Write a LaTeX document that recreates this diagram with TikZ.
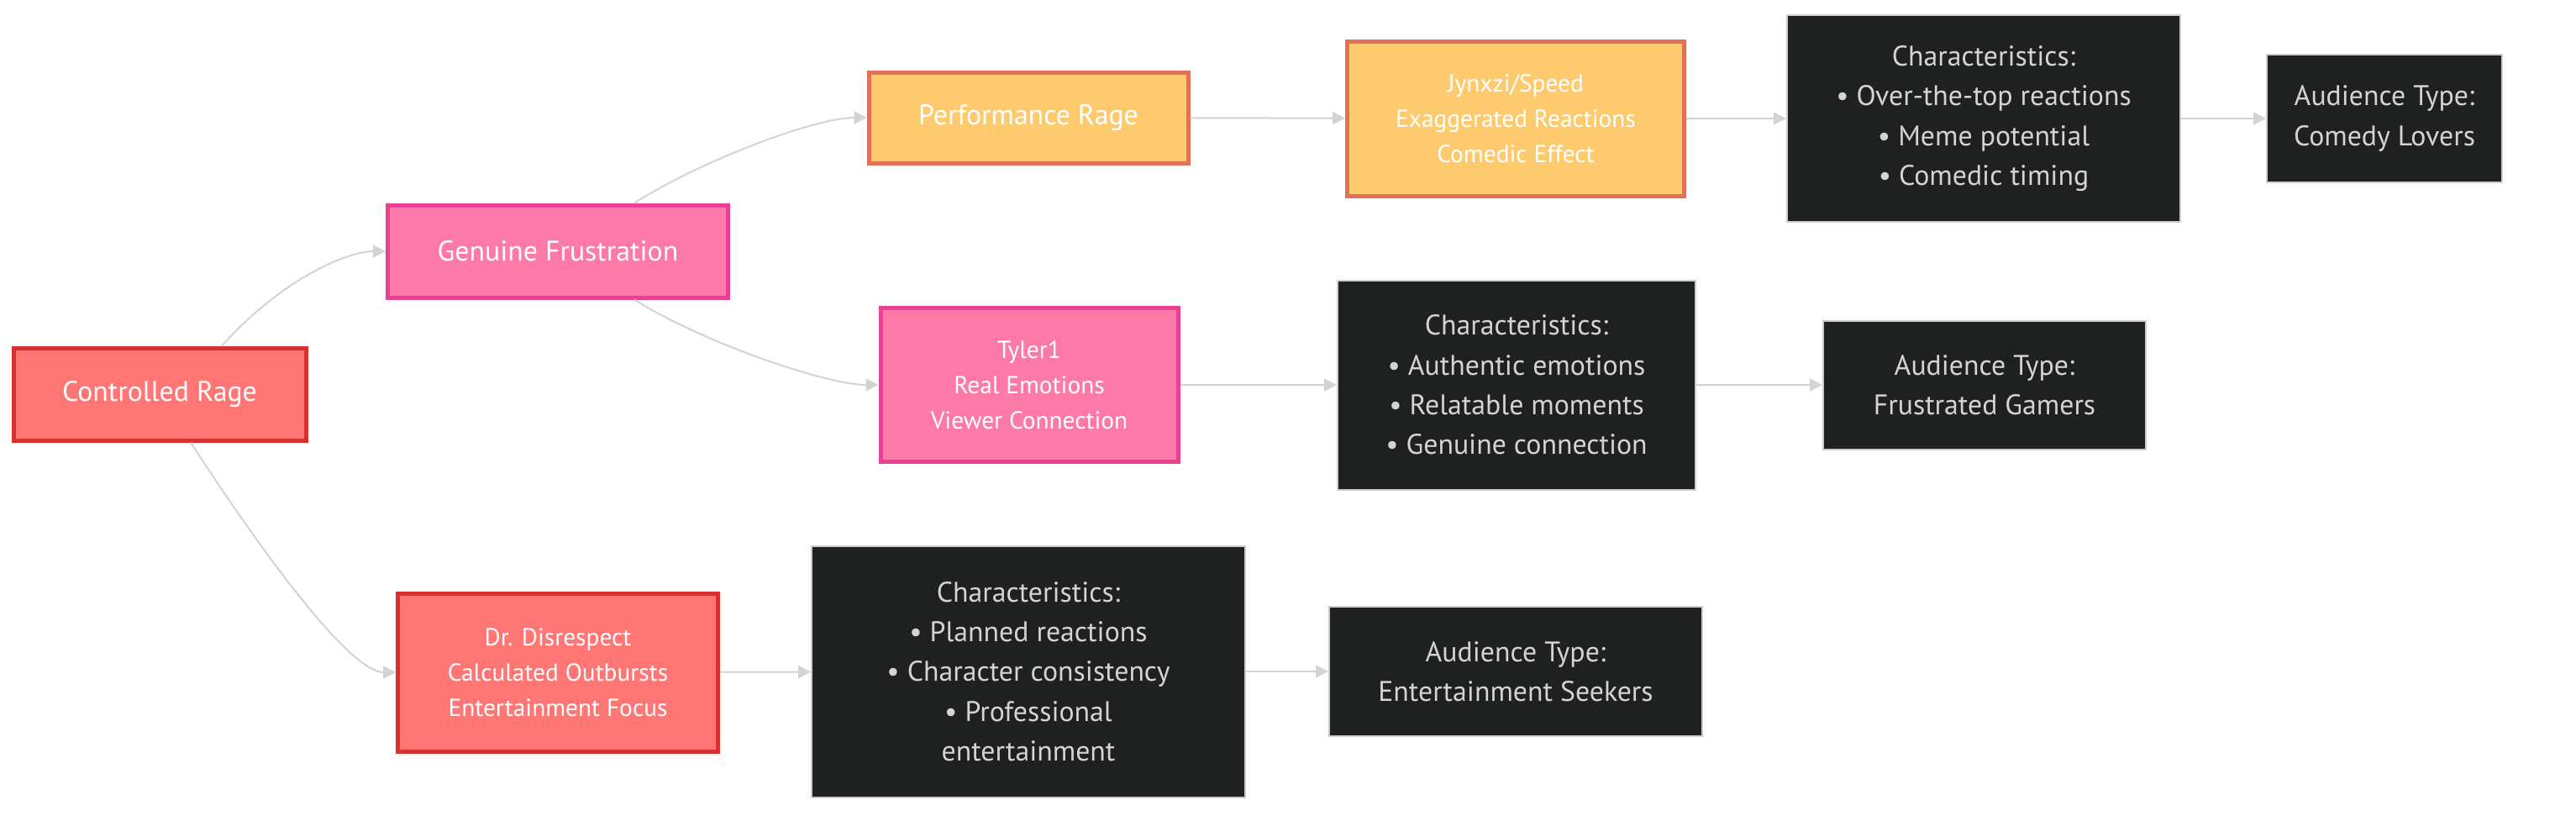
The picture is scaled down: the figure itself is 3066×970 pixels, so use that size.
\documentclass[tikz,border=0pt]{standalone}
\usepackage{fontspec}
\setmainfont{PT Sans}
\usetikzlibrary{arrows.meta}

\definecolor{rageFill}{HTML}{FF7675}
\definecolor{rageLine}{HTML}{D63031}
\definecolor{pinkFill}{HTML}{FD79A8}
\definecolor{pinkLine}{HTML}{E84393}
\definecolor{goldFill}{HTML}{FDCB6E}
\definecolor{goldLine}{HTML}{E17055}
\definecolor{darkFill}{HTML}{1F2020}
\definecolor{darkLine}{HTML}{CCCCCC}
\definecolor{edgeGray}{HTML}{D3D3D3}

\newcommand{\bigtxt}{\fontsize{16.9}{23.7}\selectfont}
\newcommand{\smalltxt}{\fontsize{14.7}{21}\selectfont}

\begin{document}
\begin{tikzpicture}[x=0.5pt, y=-0.5pt,
    box/.style={draw, rectangle, align=center, inner sep=0pt, text=white},
    rage/.style={box, fill=rageFill, draw=rageLine, line width=2.5pt},
    pink/.style={box, fill=pinkFill, draw=pinkLine, line width=2.5pt},
    gold/.style={box, fill=goldFill, draw=goldLine, line width=2.5pt},
    dark/.style={box, fill=darkFill, draw=darkLine, line width=1pt, text=darkLine!85!white, font=\bigtxt},
    link/.style={draw=edgeGray, line width=1pt, -{Triangle[length=7.5pt, width=7.5pt]}}]
    \useasboundingbox (0,0) rectangle (3066,970);

    % Zweige von links nach rechts
    \node[rage, font=\bigtxt, minimum width=174pt, minimum height=55pt] (ctrl) at (190,469) {Controlled Rage};
    \node[pink, font=\bigtxt, minimum width=202.5pt, minimum height=55pt] (genuine) at (664,299) {Genuine Frustration};
    \node[gold, font=\bigtxt, minimum width=190pt, minimum height=54pt] (perf) at (1224,140) {Performance Rage};
    \node[gold, font=\smalltxt, minimum width=200.5pt, minimum height=92pt] (jynxzi) at (1804,141) {Jynxzi/Speed\\Exaggerated Reactions\\Comedic Effect};
    \node[pink, font=\smalltxt, minimum width=177pt, minimum height=91.5pt] (tyler) at (1225,458) {Tyler1\\Real Emotions\\Viewer Connection};
    \node[rage, font=\smalltxt, minimum width=190.5pt, minimum height=94pt] (doc) at (664,800) {Dr. Disrespect\\Calculated Outbursts\\Entertainment Focus};

    % Merkmale
    \node[dark, minimum width=234pt, minimum height=123pt] (traitsA) at (2361,141) {Characteristics:\\• Over-the-top reactions\\• Meme potential\\• Comedic timing};
    \node[dark, minimum width=213pt, minimum height=124.5pt] (traitsB) at (1805,458) {Characteristics:\\• Authentic emotions\\• Relatable moments\\• Genuine connection};
    \node[dark, minimum width=258pt, minimum height=149.5pt] (traitsC) at (1224,799) {Characteristics:\\• Planned reactions\\• Character consistency\\• Professional\\entertainment};

    % Publikum
    \node[dark, minimum width=140pt, minimum height=76pt] (crowdA) at (2838,141) {Audience Type:\\Comedy Lovers};
    \node[dark, minimum width=192pt, minimum height=76.5pt] (crowdB) at (2362,458) {Audience Type:\\Frustrated Gamers};
    \node[dark, minimum width=222pt, minimum height=77pt] (crowdC) at (1804,799) {Audience Type:\\Entertainment Seekers};

    % Kurven
    \draw[link] ([xshift=37pt]ctrl.north) .. controls +(48:55pt) and +(-22pt,0) .. (genuine.west);
    \draw[link] ([xshift=18.5pt]ctrl.south) .. controls +(-57:95pt) and +(-25pt,0) .. (doc.west);
    \draw[link] ([xshift=45.5pt]genuine.north) .. controls +(32:50pt) and +(-30pt,0) .. (perf.west);
    \draw[link] ([xshift=45.5pt]genuine.south) .. controls +(-32:50pt) and +(-30pt,0) .. (tyler.west);

    % Gerade Pfeile
    \foreach \a/\b in {perf/jynxzi, jynxzi/traitsA, traitsA/crowdA, tyler/traitsB, traitsB/crowdB, doc/traitsC, traitsC/crowdC} {
        \draw[link] (\a) -- (\b);
    }
\end{tikzpicture}
\end{document}
